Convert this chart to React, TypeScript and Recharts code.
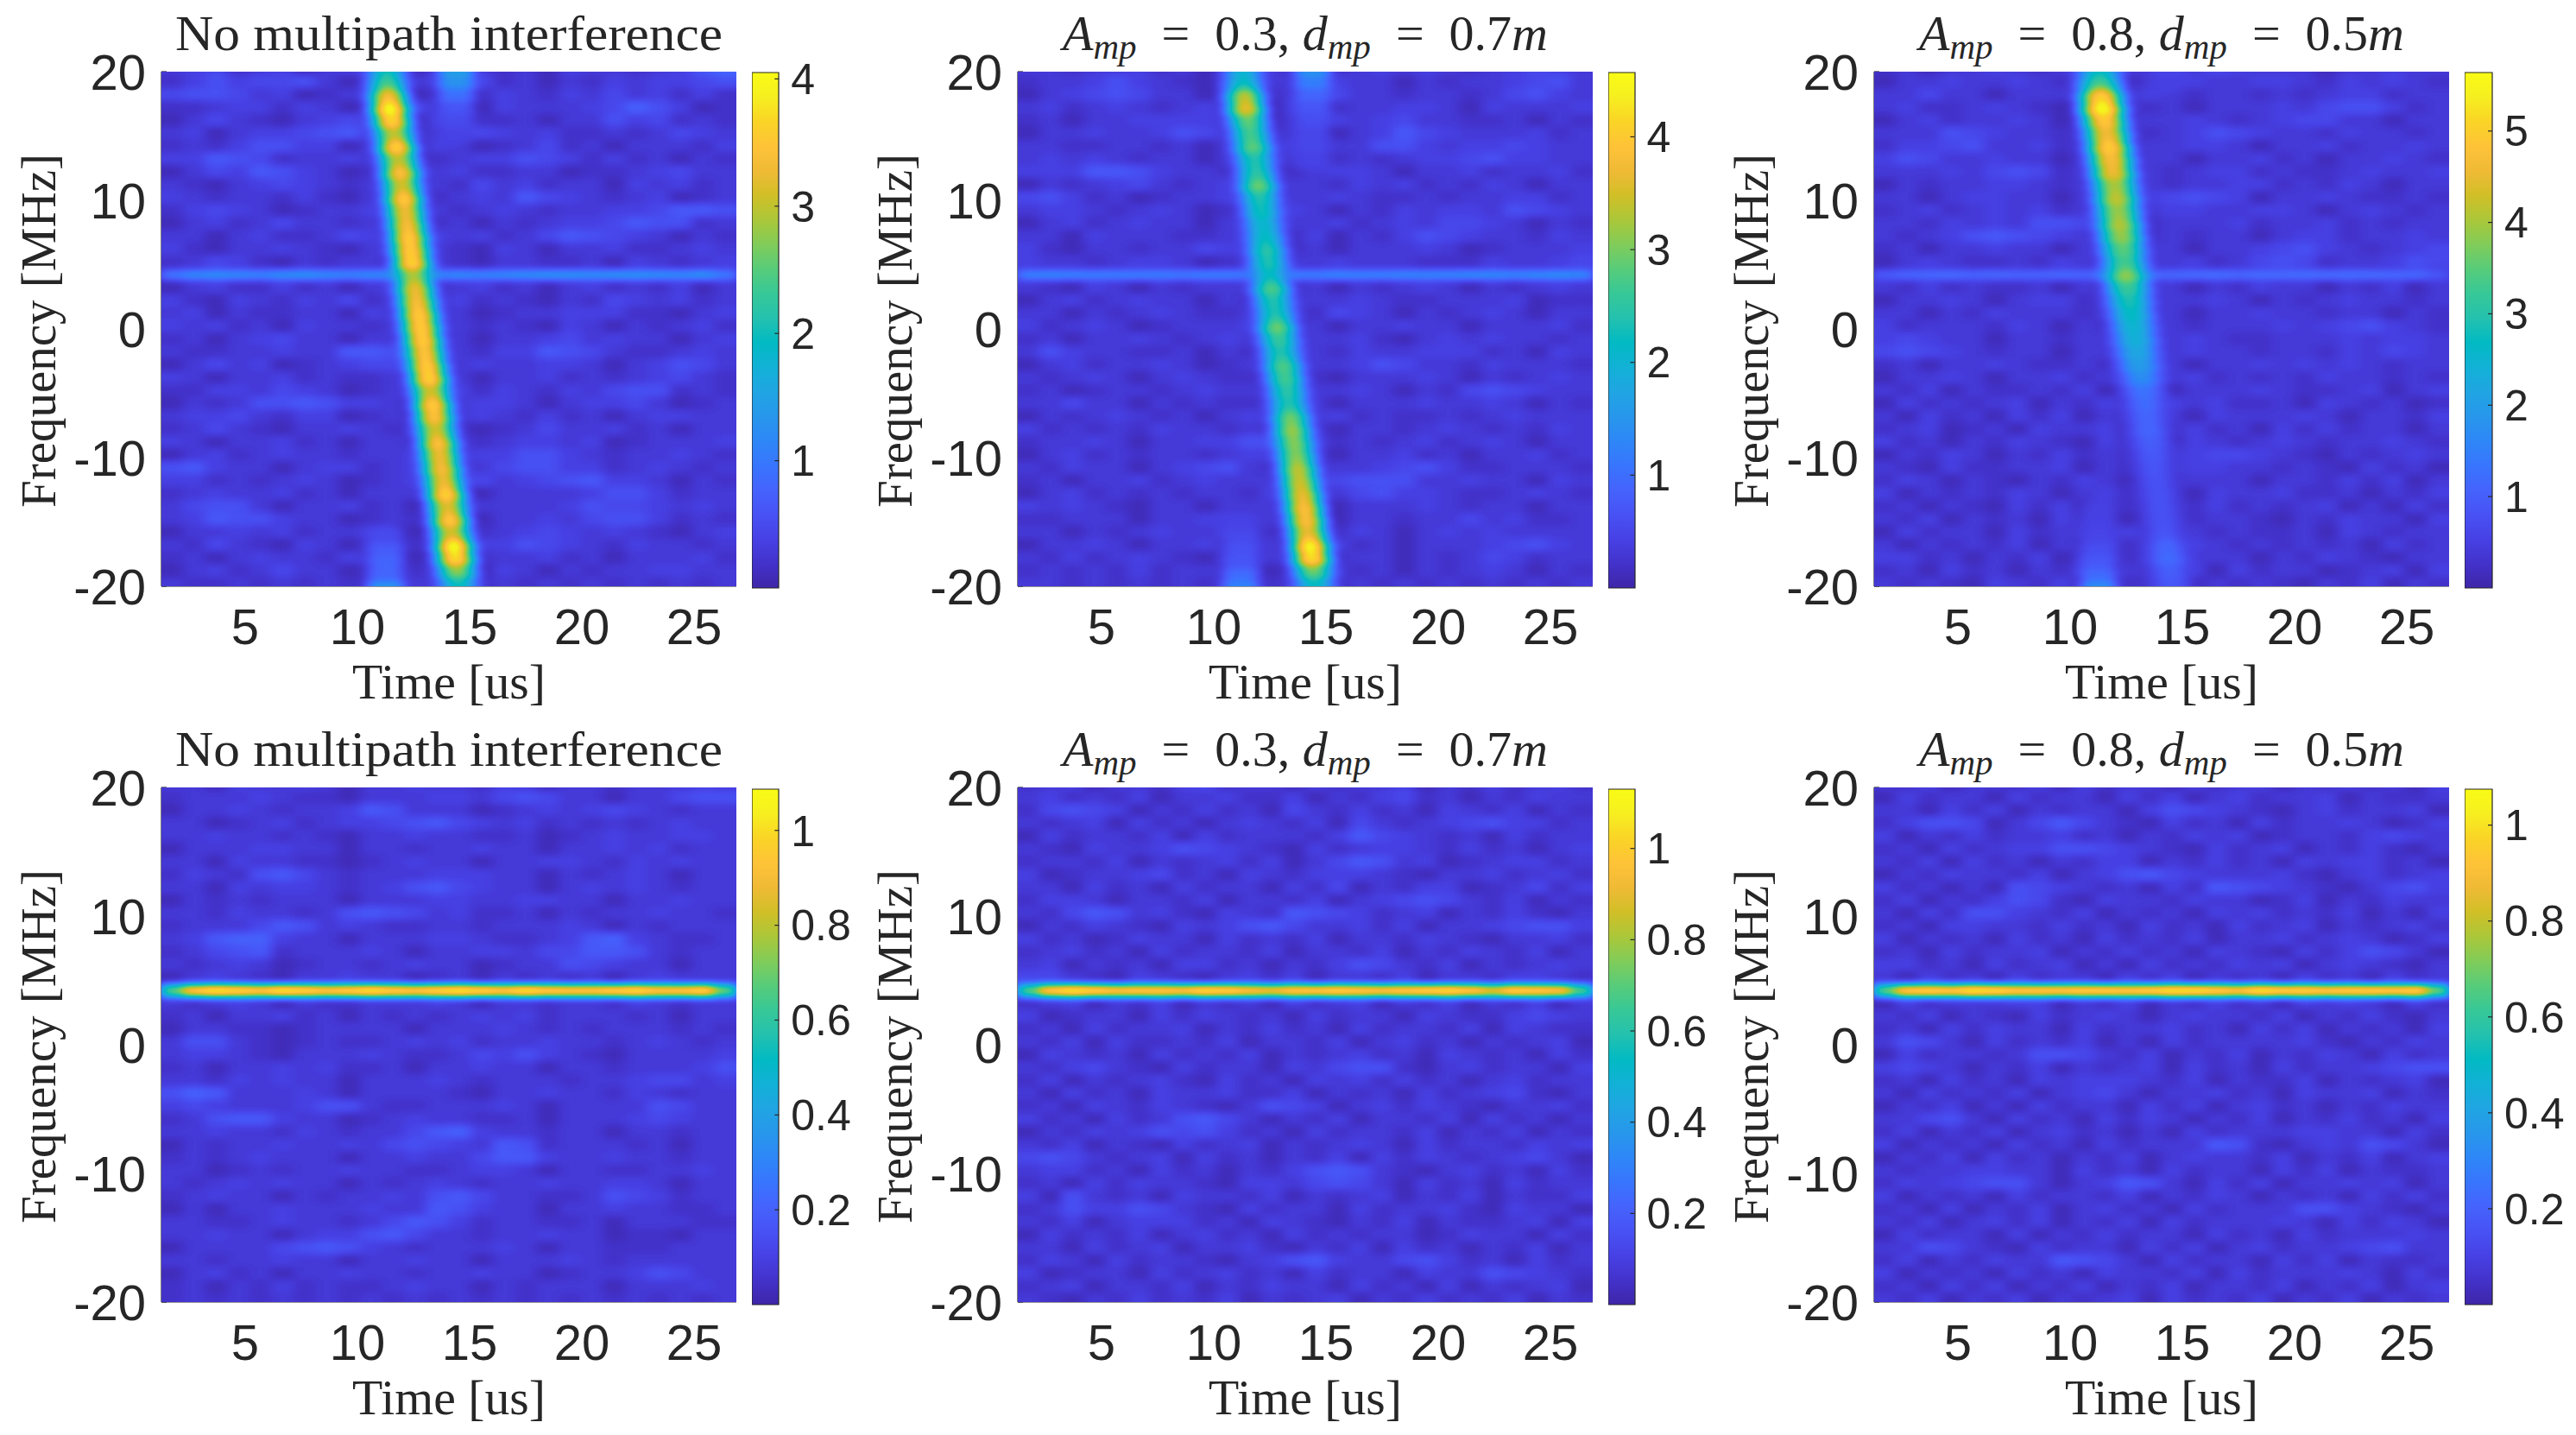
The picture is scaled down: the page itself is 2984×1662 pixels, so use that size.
import { Bar, BarChart, Scatter, ScatterChart, XAxis, YAxis } from 'recharts'

const timeTicks = [5, 10, 15, 20, 25]
const freqTicks = [-20, -10, 0, 10, 20]
const T_MIN = 1.27
const T_MAX = 26.88

const cbarMax = [4.05, 4.57, 5.64, 1.087, 1.13, 1.075]
const cbarTicks = [
  [1, 2, 3, 4],
  [1, 2, 3, 4],
  [1, 2, 3, 4, 5],
  [0.2, 0.4, 0.6, 0.8, 1],
  [0.2, 0.4, 0.6, 0.8, 1],
  [0.2, 0.4, 0.6, 0.8, 1],
]

// parula, every third entry of the 64 colour table
const parula = [
  [0.2422, 0.1504, 0.6603], [0.2647, 0.1978, 0.7952], [0.2783, 0.2559, 0.8991], [0.281, 0.3228, 0.9579],
  [0.2699, 0.3892, 0.9906], [0.2206, 0.4603, 0.9973], [0.1786, 0.5289, 0.9682], [0.154, 0.5902, 0.9218],
  [0.1248, 0.6459, 0.8883], [0.0689, 0.6948, 0.8394], [0.0067, 0.7312, 0.766], [0.1408, 0.7584, 0.6842],
  [0.2161, 0.7843, 0.5923], [0.3406, 0.8008, 0.4789], [0.5044, 0.7993, 0.348], [0.672, 0.7793, 0.2227],
  [0.8203, 0.7498, 0.1535], [0.9393, 0.7288, 0.21], [0.997, 0.7659, 0.2199], [0.9786, 0.8317, 0.148],
  [0.9628, 0.9373, 0.1265], [0.9769, 0.9839, 0.0805],
]

const ridgeFreq = [20, 19, 18, 17, 16, 15, 14, 13, 12, 11, 10, 9, 8, 7, 6, 5, 4, 3, 2, 1, 0, -1, -2, -3, -4, -5, -6, -7, -8, -9, -10, -11, -12, -13, -14, -15, -16, -17, -18, -19, -20]
const ridgeTime = [11.3, 11.33, 11.38, 11.45, 11.55, 11.65, 11.75, 11.84, 11.92, 12.0, 12.07, 12.14, 12.22, 12.3, 12.37, 12.44, 12.5, 12.58, 12.66, 12.75, 12.83, 12.92, 13.0, 13.1, 13.2, 13.28, 13.36, 13.43, 13.5, 13.6, 13.68, 13.76, 13.85, 13.95, 14.03, 14.12, 14.2, 14.3, 14.38, 14.45, 14.5]
const ridgeAmp1 = [2.0, 2.4, 3.4, 4.05, 3.7, 3.0, 3.7, 3.0, 3.5, 3.1, 3.6, 3.3, 3.4, 3.6, 3.6, 3.7, 2.9, 3.3, 3.4, 3.6, 3.6, 3.6, 3.5, 3.6, 3.7, 3.1, 3.6, 3.5, 3.1, 3.5, 3.3, 3.4, 3.3, 3.7, 3.2, 3.6, 3.1, 4.05, 3.8, 2.8, 2.0]
const ridgeAmp2 = [2.0, 2.2, 3.4, 3.7, 2.9, 2.7, 2.9, 2.4, 2.5, 3.0, 2.4, 2.3, 2.1, 2.2, 2.5, 2.4, 2.2, 2.8, 2.4, 2.4, 3.0, 2.6, 2.4, 2.8, 2.7, 2.5, 2.4, 3.0, 3.2, 3.1, 3.1, 3.4, 3.5, 3.7, 3.9, 3.9, 3.7, 4.5, 4.3, 3.0, 2.2]
const ridgeAmp3 = [2.6, 3.3, 5.0, 5.6, 4.9, 4.6, 5.0, 4.7, 4.6, 4.0, 4.2, 3.9, 4.1, 3.9, 3.5, 3.3, 3.9, 3.2, 2.9, 2.7, 2.5, 2.4, 2.2, 2.0, 1.7, 1.3, 1.2, 1.1, 1.1, 1.0, 0.9, 0.85, 0.8, 0.8, 0.8, 0.8, 0.85, 1.1, 1.2, 1.0, 0.9]

// faint second streaks at the top and bottom edges: [freq, time, value]
const ghost1 = [[20, 14.4, 1.5], [19, 14.4, 1.3], [18, 14.4, 0.9], [17, 14.4, 0.6], [16, 14.4, 0.5], [15, 14.4, 0.4], [-20, 11.25, 1.4], [-19, 11.25, 0.8], [-18, 11.25, 0.8], [-17, 11.25, 0.7], [-16, 11.25, 0.5]]
const ghost2 = [[20, 14.4, 1.5], [19, 14.4, 1.2], [18, 14.4, 0.9], [17, 14.4, 0.7], [16, 14.4, 0.6], [15, 14.4, 0.5], [14, 14.4, 0.5], [13, 14.4, 0.45], [-20, 11.2, 1.3], [-19, 11.2, 1.0], [-18, 11.2, 0.7], [-17, 11.2, 0.65], [-16, 11.2, 0.55], [-15, 11.2, 0.45]]
const ghost3 = [[20, 14.4, 0.6], [19, 14.4, 0.5], [-20, 11.25, 1.8], [-19, 11.25, 1.2], [-18, 11.25, 0.9], [-17, 11.25, 0.75], [-16, 11.25, 0.6], [-15, 11.25, 0.55], [-14, 11.25, 0.5]]

// the 4.2 MHz tone, value per grid column
const tone1 = [0.9, 1.1, 1.15, 1.1, 1.05, 1.15, 1.2, 1.1, 1.05, 1.1, 1.1, 1.1, 1.05, 1.1, 1.05, 1.1, 1.15, 1.2, 1.2, 1.15, 1.2, 1.2, 1.15, 1.1, 1.2, 0.95]
const tone2 = [1.15, 1.2, 1.15, 1.1, 1.1, 1.1, 1.1, 1.05, 1.1, 1.1, 1.0, 1.1, 1.1, 1.1, 1.2, 1.15, 1.15, 1.2, 1.2, 1.2, 1.25, 1.25, 1.2, 1.25, 1.3, 1.25]
const tone3 = [0.85, 1.0, 1.05, 1.1, 1.0, 1.05, 1.0, 1.0, 1.05, 1.0, 1.1, 1.1, 1.0, 1.05, 1.1, 1.15, 1.05, 1.1, 1.1, 1.15, 1.1, 1.15, 1.1, 1.05, 1.05, 0.8]
const tone4 = [0.7, 1.0, 1.087, 1.05, 1.0, 1.087, 1.05, 1.0, 1.03, 1.08, 1.03, 1.0, 1.05, 1.087, 1.05, 1.0, 1.08, 1.02, 1.0, 1.0, 1.03, 1.06, 1.0, 1.0, 1.05, 0.72]
const tone5 = [0.72, 1.05, 1.13, 1.08, 1.03, 1.05, 1.05, 1.03, 1.1, 1.08, 1.02, 0.98, 1.05, 1.05, 1.08, 1.05, 1.03, 1.05, 1.08, 1.1, 1.05, 0.95, 1.08, 1.06, 1.03, 0.7]
const tone6 = [0.7, 1.0, 1.03, 1.0, 1.075, 1.05, 1.0, 1.0, 1.0, 1.02, 1.02, 1.0, 1.03, 1.07, 1.07, 1.02, 0.98, 1.07, 1.03, 1.03, 1.0, 1.02, 1.02, 1.0, 1.03, 0.72]

// background level per cell, one string per MHz row from the top, one digit per microsecond column
const noise1 = [
  '34523413442134323143323479',
  '24645563132344523132434456',
  '56653412343123243243534242',
  '22344243123532143334586412',
  '13532134542143223133645232',
  '34134456743233543422323543',
  '23246644132143123523133324',
  '44765233433123446542423132',
  '13547643123534223312234533',
  '32134543232132534233143423',
  '43233242134323437543234123',
  '24543123342132343233445776',
  '13423533233523132344576623',
  '33134223542143423576543132',
  '42133432134232143133422343',
  '23542132332532133223143234',
  '33333333333333333333333333',
  '13422423134323423134232413',
  '42143243523134232132543423',
  '34132233143233123344422134',
  '43423143323543232143132342',
  '23134533133423133453433134',
  '32233433776543244765322343',
  '13534123455323433443134653',
  '43133423223233133423234532',
  '22443543123434243243566232',
  '13236676443133443134453123',
  '34453244123123432423134433',
  '23532133432342123533423133',
  '43133423133233234434123334',
  '13423433233433446643233432',
  '67433134423423356644234323',
  '44232343123423534567443132',
  '23433423133342133334664233',
  '35663133423124333346554343',
  '34766433123233133435664232',
  '13343423342133234543432134',
  '32532143132233446543243323',
  '23134332434133233423133342',
  '13423533123232143132334433',
  '32232323223333232323232323',
]
const noise2 = [
  '33233423133323234343234543',
  '23346432132333433132334563',
  '13456533133233533233235643',
  '34234323423143233443143334',
  '23133444432133434533223132',
  '13343346533233134754333423',
  '33223323132344336643445433',
  '34343233134333232344564433',
  '44477643323123443133423342',
  '13234532343133243423243133',
  '56423123342133432232334423',
  '34432343123243132434436543',
  '13423433133233423435543132',
  '33143332234324132465433243',
  '42133233543323133343123334',
  '43323443123233433322243345',
  '33333333333333333333333333',
  '32143132333423132343132343',
  '13423433132333343223334122',
  '33132343223132543132343133',
  '42343123334323133433133342',
  '23133432343233342134343323',
  '36433223132343243344423143',
  '13423343123233346533243332',
  '32343134322342133343132343',
  '23123323433233343132565433',
  '33533132322343133343343132',
  '13234323134323423223234333',
  '42323243323233133234323243',
  '23343133446654232342343133',
  '13423233234433133423133423',
  '32433134563223334564223332',
  '23133423433343566633433143',
  '13423232332432356443223432',
  '43432133133323133343233133',
  '22333133443323133233534223',
  '33132343343233243134343333',
  '13343133423323423133345643',
  '32423432133343233132354233',
  '23232423323133323132343132',
  '33232323233233232323232323',
]
const noise3 = [
  '23133432333332354333133433',
  '13343343233133433443243432',
  '33533133322343233232344233',
  '34223432133323133343566423',
  '13423343133233432345533133',
  '33365433234323465433243323',
  '24456334233133443133423343',
  '46533433132333133423133432',
  '33343565233132344232234334',
  '13233443233232334423243133',
  '33134433133345654133432232',
  '23423434233334433443134323',
  '33243436653223334233423233',
  '32346765433123233134423343',
  '23133433133233133456432345',
  '13432232432333423565233465',
  '33333333333333333333333333',
  '32423223132333132433132413',
  '13343134423133343132343323',
  '33132433323223133433233132',
  '42333243132433233343456432',
  '45433133233133432233343443',
  '56543233133233433233243543',
  '23133432232343133434343233',
  '13343133423123423232433232',
  '32413223241321333432234134',
  '14232341324134342231432312',
  '31423142413233143334313324',
  '23412314334132423142423313',
  '42313243214231432343233432',
  '13243132423233455432132343',
  '32142233413223443323214231',
  '24313213243142333133242413',
  '41323243134233143342231324',
  '23132142413213242323413142',
  '32413231423143233213243314',
  '14233142332413323223143233',
  '31323241324231432323231423',
  '44231324134231333132432133',
  '23142313241323414233123414',
  '32321432413224132321324132',
]
const noise4 = [
  '33143343133433243133233343',
  '23334322133344356533133566',
  '13343233476333123434543233',
  '33123423445675434232323433',
  '33433232133433223123433443',
  '13334433133233433133434233',
  '33143322123433133443243433',
  '24326753233344433132343133',
  '33143443234675433134343233',
  '13232333133344334433133433',
  '33243323676534223132334332',
  '23335763432233233343132333',
  '34788433133344322347843223',
  '23567233343133443557763233',
  '32343123323433123365433133',
  '13432133433123132323134333',
  '33333333333333333333333333',
  '32343132233343133233243233',
  '23133423132323434233323133',
  '13322123333133343232333232',
  '36632123223434233433234323',
  '34432133343223546432133334',
  '23133434223133433133233346',
  '33243433133343233323345534',
  '68733343133332133433243233',
  '45433346632233343133336533',
  '23677433123433223133345433',
  '33433243233578433233133233',
  '13233433435654376233323133',
  '23234333133433577433433233',
  '33123233433223443133223343',
  '32343433132343233433443133',
  '23433132334367533223654233',
  '13133433343376433133433223',
  '33223433235764233223133322',
  '33433134467533233433122133',
  '13333567643233343133222333',
  '33233433133433133343233333',
  '13423133433233433123346533',
  '23132423223433132333133343',
  '23232323232323232323232323',
]
const noise5 = [
  '23413324523314233413242342',
  '34232413342241324523132433',
  '25654132423153242314324132',
  '32341423134324153234564423',
  '14233241423332475432314233',
  '32143346543214234432423134',
  '23324132342413576341234423',
  '41233452314324443213342342',
  '33142314233142513244123524',
  '24431332413324134565324132',
  '32576342143276542341324213',
  '13243214346753342413345664',
  '42312433142324133243213342',
  '23423142332413324132432413',
  '34132314423132465324132343',
  '55321432134241332413324432',
  '33333333333333333333333333',
  '23413241323142341324132413',
  '41233142432314233143224543',
  '23142334132423142332414322',
  '32414223241332413423132341',
  '14323142324132342314323142',
  '32453214233143566213423314',
  '24132342142314342423134233',
  '31423143342241323142345213',
  '23143243213654134243213342',
  '42314236753132413324142313',
  '13243465642314233241324132',
  '32413214234132343142332434',
  '56532341423132414243234531',
  '34423142313246763213423142',
  '23142433214435653142314233',
  '41632314332413234132413224',
  '23644653214233142334214331',
  '32413444231432132413223414',
  '14232413423142323312433142',
  '33142341334213241423132413',
  '24314233213467433564231423',
  '41233142342314233143365432',
  '23413324132433142314132341',
  '32132423241323413242324132',
]
const noise6 = [
  '32413324142331423413242314',
  '14233142331424134233413223',
  '33142413233146543213423341',
  '24665135753214231423343124',
  '41324233423132434123324543',
  '23142344665432142341324213',
  '32414231324413242314344231',
  '13243324134675433342134234',
  '42313165432314276543213564',
  '24132465214332433124132433',
  '31426643241323143423241314',
  '23144332423142314234132342',
  '41323142314232413342343124',
  '23142334132423143214246531',
  '44231423413142324341343213',
  '31423142331424132314231423',
  '33333333333333333333333333',
  '14233344132413242314343142',
  '32413214234313433241324213',
  '23142433142334231424132314',
  '36531423241314233334213243',
  '14233236653241324132431423',
  '45431324132341423142334566',
  '23142314344432413224132341',
  '31423241345313342314334132',
  '13241314233142413423132433',
  '33563142314243132413242314',
  '24132413423131423334433142',
  '41323142314233376213436531',
  '13241423132413433241324134',
  '32334433142314233142413223',
  '24345663134763142413343413',
  '41323142332413243132314242',
  '23141324134231423336643213',
  '32413424132414233343142431',
  '14233141324233142314233343',
  '33653214233142413423345633',
  '24132433765314233142413223',
  '41323142314332414233343142',
  '23142413241324133241324134',
  '32413241323414232413241323',
]

const titles = ['No multipath interference', null, null]
const mathA = [null, '0.3', '0.8']
const mathD = [null, '0.7', '0.5']

const PLOT_W = 666
const PLOT_H = 596
const PLOT_L = 187
const PLOT_T = 83
const CELL_W = PLOT_W / 26
const CELL_H = PLOT_H / 40
const INK = '#262626'
const SANS = 'Liberation Sans'
const SERIF = 'Liberation Serif'

function buildCells(noise, tone, ridge, ghost, max, wide) {
  const cells = []
  const dt = (T_MAX - T_MIN) / 26
  noise.forEach((row, r) => {
    ;[...row].forEach((ch, c) => {
      cells.push({ kind: 'cell', t: T_MIN + (c + 0.5) * dt, f: 20.2 - r, z: Number(ch) * 0.023, r, c })
    })
  })
  // the weak tone of the top row is thinner than the strong one of the bottom row
  tone.forEach((v, c) => cells.push({ kind: 'tone', t: T_MIN + (c + 0.5) * dt, f: 4.2, z: ridge ? (1.2 * v) / max : v / max, c, h: ridge ? 10 : 14 }))
  ghost.forEach(([f, t, a]) => cells.push({ kind: 'ghost', t, f, z: a / max }))
  if (ridge) {
    ridge.forEach((a, i) => cells.push({ kind: 'halo', t: ridgeTime[i], f: ridgeFreq[i], z: (a * 0.55) / max, wide }))
    ridge.forEach((a, i) => cells.push({ kind: 'core', t: ridgeTime[i], f: ridgeFreq[i], z: a / max, wide }))
  }
  return cells
}

function HeatShape(props: any) {
  const { cx, cy, payload } = props
  const g = Math.round(Math.min(1, payload.z) * 255)
  const fill = `rgb(${g},${g},${g})`
  if (payload.kind === 'cell') {
    // outer cells run past the plot so the blur has no edge to fade at
    const l = payload.c === 0 ? 30 : 0
    const rr = payload.c === 25 ? 30 : 0
    const b = payload.r === 40 ? 30 : 0
    const up = payload.r === 0 ? 30 : 0
    return <rect x={cx - CELL_W / 2 - l - 0.5} y={cy - CELL_H / 2 - up - 0.5} width={CELL_W + l + rr + 1} height={CELL_H + up + b + 1} fill={fill} />
  }
  if (payload.kind === 'tone') {
    return <rect x={cx - CELL_W / 2 - 0.5} y={cy - payload.h / 2} width={CELL_W + 1} height={payload.h} fill={fill} />
  }
  if (payload.kind === 'ghost') return <ellipse cx={cx} cy={cy} rx={21} ry={11} fill={fill} />
  if (payload.kind === 'halo') return <ellipse cx={cx} cy={cy} rx={26 * payload.wide} ry={12} fill={fill} />
  return <ellipse cx={cx} cy={cy} rx={14 * payload.wide} ry={10.5} fill={fill} />
}

function Title({ idx }: { idx: number }) {
  const x = PLOT_L + PLOT_W / 2
  if (titles[idx]) {
    return (
      <text x={x} y={58} textAnchor="middle" fontFamily={SERIF} fontSize={58} fill={INK} textLength={634} lengthAdjust="spacingAndGlyphs">
        {titles[idx]}
      </text>
    )
  }
  return (
    <text x={x} y={58} textAnchor="middle" fontFamily={SERIF} fontSize={58} fill={INK}>
      <tspan fontStyle="italic">A</tspan>
      <tspan fontStyle="italic" fontSize={41} dy={10}>mp</tspan>
      <tspan dy={-10}>{`\u2002=\u2002${mathA[idx]}, `}</tspan>
      <tspan fontStyle="italic">d</tspan>
      <tspan fontStyle="italic" fontSize={41} dy={10}>mp</tspan>
      <tspan dy={-10}>{`\u2002=\u2002${mathD[idx]}`}</tspan>
      <tspan fontStyle="italic">m</tspan>
    </text>
  )
}

function Panel({ left, top, idx, cells }: any) {
  const tickStyle = { fontSize: 58, fill: INK, fontFamily: SANS }
  const line = { stroke: INK, strokeWidth: 1.2 }
  return (
    <div style={{ position: 'absolute', left: left - PLOT_L, top: top - PLOT_T }}>
      <ScatterChart width={PLOT_L + PLOT_W} height={830} margin={{ top: PLOT_T, left: 0, right: 0, bottom: 0 }}>
        <Scatter data={cells} shape={HeatShape} className="heat" isAnimationActive={false} />
        <XAxis type="number" dataKey="t" domain={[T_MIN, T_MAX]} allowDataOverflow ticks={timeTicks} interval={0} height={151} tickSize={-6} tickMargin={32} tick={tickStyle} axisLine={line} tickLine={line} />
        <YAxis type="number" dataKey="f" domain={[-20, 20]} allowDataOverflow ticks={freqTicks} interval={0} width={PLOT_L} tickSize={-6} tickMargin={24} tick={tickStyle} axisLine={line} tickLine={line} />
        <XAxis xAxisId="top" type="number" orientation="top" domain={[T_MIN, T_MAX]} allowDataOverflow ticks={timeTicks} interval={0} height={0} tickSize={-6} tick={false} axisLine={line} tickLine={line} />
        <YAxis yAxisId="right" type="number" orientation="right" domain={[-20, 20]} allowDataOverflow ticks={freqTicks} interval={0} width={0} tickSize={-6} tick={false} axisLine={line} tickLine={line} />
        <Title idx={idx % 3} />
        <text transform={`translate(64,${PLOT_T + 300}) rotate(-90)`} textAnchor="middle" fontFamily={SERIF} fontSize={58} fill={INK} textLength={410} lengthAdjust="spacingAndGlyphs">
          Frequency [MHz]
        </text>
        <text x={PLOT_L + PLOT_W / 2} y={809} textAnchor="middle" fontFamily={SERIF} fontSize={58} fill={INK} textLength={224} lengthAdjust="spacingAndGlyphs">
          Time [us]
        </text>
      </ScatterChart>
    </div>
  )
}

function Colorbar({ left, top, width, idx }: any) {
  const data = [{ name: 'c', v: cbarMax[idx] }]
  return (
    <div style={{ position: 'absolute', left, top: top - 30 }}>
      <BarChart width={width + 130} height={657} data={data} barCategoryGap={0} margin={{ top: 30, left: 0, right: 0, bottom: 30 }}>
        <XAxis dataKey="name" hide />
        <YAxis orientation="right" type="number" domain={[0, cbarMax[idx]]} ticks={cbarTicks[idx]} interval={0} width={130} tickSize={-5} tickMargin={19} axisLine={false} tickLine={{ stroke: INK, strokeWidth: 1.2 }} tick={{ fontSize: 50, fill: INK, fontFamily: SANS }} />
        <Bar dataKey="v" fill="url(#parulaBar)" stroke={INK} strokeWidth={1.2} isAnimationActive={false} />
      </BarChart>
    </div>
  )
}

const tableFor = (ch: number) => parula.map((p) => p[ch]).join(' ')

const cellsByPanel = [
  buildCells(noise1, tone1, ridgeAmp1, ghost1, cbarMax[0], 1),
  buildCells(noise2, tone2, ridgeAmp2, ghost2, cbarMax[1], 1),
  buildCells(noise3, tone3, ridgeAmp3, ghost3, cbarMax[2], 1.15),
  buildCells(noise4, tone4, null, [], cbarMax[3], 1),
  buildCells(noise5, tone5, null, [], cbarMax[4], 1),
  buildCells(noise6, tone6, null, [], cbarMax[5], 1),
]

const plotLefts = [187.3, 1179.2, 2171]
const plotTops = [83.3, 912]
const barLefts = [870.7, 1863, 2854.5]
const barWidths = [31.3, 30.5, 32]
const barTops = [83.5, 913.5]

export default function App() {
  return (
    <div style={{ position: 'absolute', left: 0, top: 0, width: 2984, height: 1662, background: '#fff', overflow: 'hidden' }}>
      <style>{`.heat{filter:url(#heatFilter);clip-path:url(#plotClip);}`}</style>
      <svg style={{ position: 'absolute', width: 0, height: 0 }}>
        <defs>
          <filter id="heatFilter" filterUnits="userSpaceOnUse" x={0} y={0} width={1000} height={900} colorInterpolationFilters="sRGB">
            <feGaussianBlur stdDeviation="7 4.5" />
            <feComponentTransfer>
              <feFuncR type="table" tableValues={tableFor(0)} />
              <feFuncG type="table" tableValues={tableFor(1)} />
              <feFuncB type="table" tableValues={tableFor(2)} />
            </feComponentTransfer>
          </filter>
          <clipPath id="plotClip">
            <rect x={PLOT_L} y={PLOT_T} width={PLOT_W} height={PLOT_H} />
          </clipPath>
          <linearGradient id="parulaBar" x1="0" y1="1" x2="0" y2="0">
            {parula.map((p, i) => (
              <stop key={i} offset={i / (parula.length - 1)} stopColor={`rgb(${p.map((v) => Math.round(v * 255)).join(',')})`} />
            ))}
          </linearGradient>
        </defs>
      </svg>
      {cellsByPanel.map((cells, i) => (
        <Panel key={i} idx={i} left={plotLefts[i % 3]} top={plotTops[Math.floor(i / 3)]} cells={cells} />
      ))}
      {cellsByPanel.map((_, i) => (
        <Colorbar key={i} idx={i} left={barLefts[i % 3]} top={barTops[Math.floor(i / 3)]} width={barWidths[i % 3]} />
      ))}
    </div>
  )
}
